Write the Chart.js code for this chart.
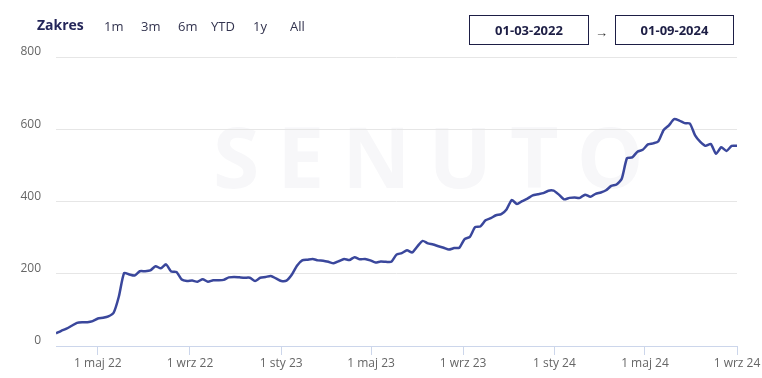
<!DOCTYPE html>
<html>
<head>
<meta charset="utf-8">
<script src="https://cdn.jsdelivr.net/npm/chart.js@4.4.0/dist/chart.umd.min.js"></script>
<style>
  html, body { margin: 0; padding: 0; background: #fff; }
  #wrap { position: relative; width: 762px; height: 378px; overflow: hidden; font-family: "Open Sans", sans-serif; }
  #mark { position: absolute; left: 213px; top: 106px; font-size: 84px; font-weight: 700; color: #f7f7f9; letter-spacing: 18px; line-height: 100px; }
  #chart { position: absolute; left: 0; top: 0; }
  .zakres { position: absolute; left: 37px; top: 15px; font-size: 14px; font-weight: 700; color: #25275a; }
  .btn { position: absolute; top: 17px; font-size: 13px; color: #33344f; }
  .box { position: absolute; top: 15px; height: 28px; border: 1.5px solid #1d1e45; font-size: 13px; font-weight: 700; color: #1d1e45; text-align: center; line-height: 28px; }
  .arrow { position: absolute; left: 595px; top: 23px; font-size: 13px; color: #333; }
</style>
</head>
<body>
<div id="wrap">
  <div id="mark">SENUTO</div>
  <canvas id="chart" width="762" height="378"></canvas>
  <div class="zakres">Zakres</div>
  <div class="btn" style="left:104px">1m</div>
  <div class="btn" style="left:141px">3m</div>
  <div class="btn" style="left:178px">6m</div>
  <div class="btn" style="left:211px">YTD</div>
  <div class="btn" style="left:253px">1y</div>
  <div class="btn" style="left:290px">All</div>
  <div class="box" style="left:469px;width:118px">01-03-2022</div>
  <div class="arrow">→</div>
  <div class="box" style="left:615px;width:117px">01-09-2024</div>
</div>
<script>
// weekly visibility values, first week starts on startDate
const startDate = '2022-03-06';
const weekValues = [
    35, 42, 48, 56, 64, 66, 66, 69, 76, 78, 82, 92, 137, 202, 198, 195, 207, 207, 209, 221,
    215, 226, 206, 205, 184, 180, 181, 178, 185, 178, 182, 182, 183, 190, 191, 190, 189, 189, 180, 189,
    191, 194, 187, 180, 181, 197, 222, 237, 239, 241, 237, 236, 233, 229, 235, 241, 238, 246, 240, 241,
    237, 231, 234, 233, 233, 253, 257, 265, 259, 276, 291, 284, 281, 276, 272, 267, 271, 272, 296, 302,
    329, 331, 348, 354, 362, 365, 378, 404, 393, 401, 408, 417, 420, 423, 430, 430, 419, 406, 410, 411,
    410, 419, 413, 421, 425, 431, 443, 447, 463, 520, 522, 538, 543, 558, 561, 567, 598, 611, 628, 624,
    617, 616, 583, 565, 554, 559, 532, 550, 540, 554, 554
];
const tickDates = ['2022-05-01', '2022-09-01', '2023-01-01', '2023-05-01', '2023-09-01', '2024-01-01', '2024-05-01', '2024-09-01'];
const tickLabels = ['1 maj 22', '1 wrz 22', '1 sty 23', '1 maj 23', '1 wrz 23', '1 sty 24', '1 maj 24', '1 wrz 24'];
const yTicks = [0, 200, 400, 600, 800];

const DAY = 24 * 3600 * 1000;
const t0 = Date.parse(startDate + 'T00:00:00Z');
const points = weekValues.map((v, i) => ({ x: t0 + i * 7 * DAY, y: v }));

new Chart(document.getElementById('chart'), {
    type: 'line',
    data: {
        datasets: [{
            data: points,
            borderColor: '#3a479c',
            borderWidth: 2.5,
            pointRadius: 0,
            tension: 0.2,
            fill: false,
        }],
    },
    options: {
        responsive: false,
        animation: false,
        layout: { padding: { top: 57, right: 25, bottom: 0, left: 0 } },
        plugins: {
            legend: { display: false },
            tooltip: { enabled: false },
        },
        scales: {
            x: {
                type: 'linear',
                min: points[0].x,
                max: points[points.length - 1].x,
                afterBuildTicks: s => { s.ticks = tickDates.map(d => ({ value: Date.parse(d + 'T00:00:00Z') })); },
                afterFit: s => { s.height = 32; },
                border: { color: '#ccd6eb', width: 1 },
                grid: { drawOnChartArea: false, drawTicks: true, tickLength: 9, color: '#ccd6eb' },
                ticks: {
                    autoSkip: false, maxRotation: 0, padding: 1,
                    color: '#666', font: { family: 'Open Sans', size: 12 },
                    callback: (v, i) => tickLabels[i],
                },
            },
            y: {
                min: 0,
                max: 800,
                afterBuildTicks: s => { s.ticks = yTicks.map(v => ({ value: v })); },
                afterFit: s => { s.width = 56; },
                border: { display: false },
                grid: { color: '#e6e6e6', drawTicks: false },
                ticks: {
                    padding: 15, labelOffset: -5,
                    color: '#666', font: { family: 'Open Sans', size: 12 },
                },
            },
        },
    },
});
</script>
</body>
</html>
